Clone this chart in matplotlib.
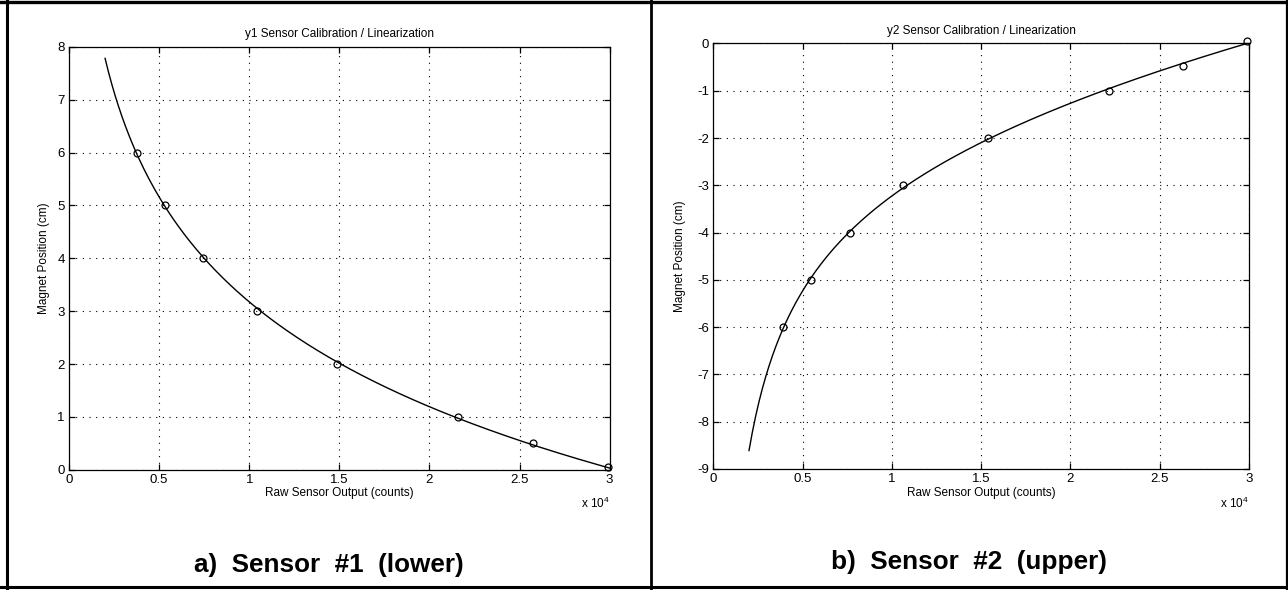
import numpy as np
import matplotlib
matplotlib.use("Agg")
import matplotlib.pyplot as plt
from matplotlib.lines import Line2D

plt.rcParams['font.family'] = ['Liberation Sans Narrow', 'Liberation Sans', 'DejaVu Sans']
plt.rcParams['mathtext.fontset'] = 'custom'
plt.rcParams['mathtext.rm'] = 'Liberation Sans'

# calibration points: raw counts vs known magnet position (cm)
y1_counts = [3760, 5330, 7450, 10450, 14890, 21590, 25740, 29900]
y1_pos = [6, 5, 4, 3, 2, 1, 0.5, 0.05]

y2_counts = [3920, 5460, 7650, 10630, 15380, 22180, 26320, 29870]
y2_pos = [-6, -5, -4, -3, -2, -1, -0.47, 0.06]

x_ticks = [0, 5000, 10000, 15000, 20000, 25000, 30000]
x_ticklabels = ['0', '0.5', '1', '1.5', '2', '2.5', '3']
fit_range = (2000, 30000)


def calib_panel(ax, counts, pos, yticks, title, deg, ylab_x):
    # polynomial fit of position against log of raw counts
    c = np.polyfit(np.log(counts), pos, deg)
    xf = np.linspace(fit_range[0], fit_range[1], 300)
    ax.plot(xf, np.polyval(c, np.log(xf)), 'k-', lw=1.0)
    ax.plot(counts, pos, 'o', mfc='none', mec='k', ms=5, mew=0.9, clip_on=False)
    ax.set_xlim(0, 30000)
    ax.set_ylim(yticks[0], yticks[-1])
    ax.set_xticks(x_ticks)
    ax.set_xticklabels(x_ticklabels)
    ax.set_yticks(yticks)
    ax.set_yticklabels([str(t) for t in yticks])
    ax.grid(True, color='k', linestyle=(0, (1, 5)), lw=0.8)
    ax.tick_params(direction='in', top=True, right=True, length=4, width=0.9,
                   labelsize=9.5, pad=3)
    for s in ax.spines.values():
        s.set_linewidth(0.9)
    ax.set_title(title, fontsize=8.5, pad=7)
    ax.set_xlabel('Raw Sensor Output (counts)', fontsize=8.5, labelpad=1)
    ax.set_ylabel('Magnet Position (cm)', fontsize=8.5)
    ax.yaxis.set_label_coords(ylab_x, 0.5)
    ax.text(1.0, -0.062, r'x 10$^{4}$', transform=ax.transAxes, ha='right',
            va='top', fontsize=8.5)


fig = plt.figure(figsize=(12.88, 5.9), dpi=100)

ax1 = fig.add_axes([0.0536, 0.2036, 0.4197, 0.7172])
calib_panel(ax1, y1_counts, y1_pos, list(range(0, 9)),
            'y1 Sensor Calibration / Linearization', 1, -0.035)

ax2 = fig.add_axes([0.5538, 0.2051, 0.4159, 0.7212])
calib_panel(ax2, y2_counts, y2_pos, list(range(-9, 1)),
            'y2 Sensor Calibration / Linearization', 3, -0.051)

fig.text(0.2555, 0.043, 'a)  Sensor  #1  (lower)', ha='center', va='center',
         fontsize=18.8, fontweight='bold', family=['Liberation Sans', 'DejaVu Sans'])
fig.text(0.7523, 0.048, 'b)  Sensor  #2  (upper)', ha='center', va='center',
         fontsize=18.8, fontweight='bold', family=['Liberation Sans', 'DejaVu Sans'])

# panel frames
W, H = 1288.0, 590.0
frame = [((7, 7), (0, 590), 2.2), ((0, 1288), (587, 587), 2.2),
         ((651, 651), (0, 590), 2.0), ((1286.5, 1286.5), (0, 590), 1.6),
         ((0, 1288), (2, 2), 2.4)]
for xs, ys, w in frame:
    fig.add_artist(Line2D([x / W for x in xs], [1 - y / H for y in ys],
                          color='k', lw=w, transform=fig.transFigure))

fig.savefig('out.png', dpi=100)
